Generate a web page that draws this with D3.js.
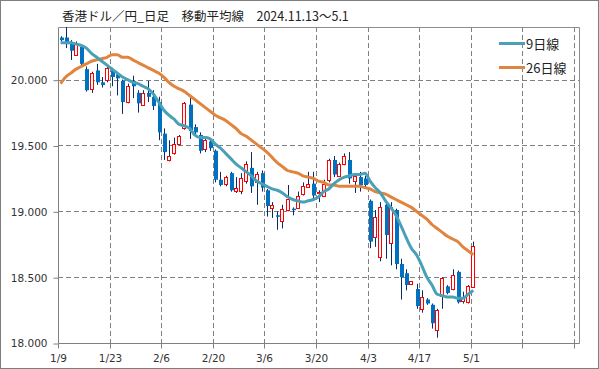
<!DOCTYPE html>
<meta charset="utf-8">
<head>
	<title>香港ドル／円 日足 移動平均線</title>
</head>

<style>
body{
	margin: 0;
	background: #fff;
}
svg{
	display: block;
}
.grid line{
	stroke: #808080;
	stroke-dasharray: 5,3;
}
.axis text{
	font-family: "DejaVu Sans", Verdana, sans-serif;
	font-size: 10.5px;
	fill: #333;
}
.axis path, .axis line{
	stroke: #808080;
}
</style>

<body>
<svg width="599" height="369"></svg>

<script src="https://cdnjs.cloudflare.com/ajax/libs/d3/7.8.5/d3.min.js"></script>
<script>

// 日足 (1/9 ～ 5/1)
var opens  = [20.32,20.32,20.28,20.19,20.25,20.08,19.93,20.07,19.98,20.00,
              20.07,20.04,19.99,19.83,19.99,19.90,19.81,19.90,19.87,19.83,
              19.59,19.39,19.44,19.51,19.63,19.81,19.64,19.58,19.47,19.53,
              19.46,19.24,19.21,19.29,19.16,19.15,19.23,19.33,19.22,19.29,
              19.16,19.03,18.97,18.93,19.01,19.02,19.03,19.13,19.19,19.21,
              19.14,19.12,19.24,19.39,19.27,19.36,19.39,19.23,19.26,19.25,
              19.08,18.81,18.65,19.05,18.76,19.01,18.60,18.53,18.45,18.41,
              18.26,18.33,18.29,18.10,18.35,18.43,18.41,18.54,18.32,18.31,
              18.43];
var highs  = [20.33,20.40,20.30,20.29,20.27,20.10,20.06,20.12,20.02,20.11,
              20.09,20.06,20.00,19.97,20.03,19.92,19.92,19.99,19.92,19.87,
              19.63,19.54,19.56,19.58,19.83,19.86,19.66,19.60,19.55,19.55,
              19.47,19.30,19.27,19.30,19.26,19.29,19.38,19.45,19.30,19.31,
              19.17,19.07,19.00,19.05,19.20,19.03,19.15,19.22,19.30,19.30,
              19.16,19.24,19.40,19.42,19.37,19.44,19.45,19.28,19.30,19.27,
              19.09,19.01,19.07,19.07,19.07,19.02,18.64,18.56,18.47,18.45,
              18.40,18.34,18.30,18.26,18.50,18.44,18.56,18.55,18.39,18.44,
              18.77];
var lows   = [20.29,20.24,20.15,20.18,20.10,19.91,19.90,19.96,19.94,19.98,
              19.95,19.88,19.74,19.82,19.86,19.75,19.80,19.83,19.77,19.54,
              19.39,19.38,19.43,19.50,19.62,19.55,19.57,19.44,19.45,19.46,
              19.22,19.19,19.19,19.15,19.14,19.13,19.21,19.14,19.05,19.15,
              18.96,18.95,18.86,18.87,19.00,18.97,19.02,19.12,19.18,19.10,
              19.07,19.11,19.22,19.26,19.26,19.35,19.21,19.14,19.15,19.18,
              18.72,18.73,18.62,18.64,18.59,18.56,18.33,18.40,18.44,18.26,
              18.23,18.29,18.11,18.04,18.26,18.37,18.40,18.30,18.30,18.30,
              18.42];
var closes = [20.30,20.27,20.22,20.27,20.12,19.92,20.05,19.98,19.96,20.09,
              20.02,20.01,19.83,19.95,19.95,19.82,19.90,19.87,19.80,19.60,
              19.45,19.42,19.51,19.57,19.82,19.61,19.60,19.46,19.54,19.48,
              19.24,19.20,19.26,19.16,19.18,19.25,19.36,19.19,19.28,19.18,
              19.04,19.05,18.96,19.02,19.09,19.01,19.12,19.19,19.21,19.12,
              19.15,19.21,19.39,19.28,19.36,19.42,19.25,19.27,19.20,19.20,
              18.77,18.96,19.03,18.82,19.03,18.60,18.50,18.44,18.47,18.28,
              18.35,18.30,18.15,18.25,18.49,18.38,18.52,18.31,18.35,18.43,
              18.74];

// 移動平均
var ma9  = [20.28,20.28,20.28,20.27,20.26,20.24,20.20,20.17,20.14,20.11,
            20.08,20.05,20.02,20.00,19.98,19.97,19.95,19.93,19.89,19.83,
            19.77,19.73,19.70,19.66,19.65,19.63,19.58,19.56,19.56,19.55,
            19.51,19.48,19.44,19.40,19.36,19.33,19.30,19.27,19.23,19.21,
            19.19,19.17,19.16,19.14,19.11,19.09,19.08,19.07,19.08,19.09,
            19.11,19.15,19.17,19.21,19.24,19.26,19.27,19.28,19.28,19.29,
            19.23,19.18,19.14,19.08,19.03,18.97,18.89,18.80,18.72,18.67,
            18.59,18.50,18.44,18.37,18.36,18.35,18.35,18.34,18.34,18.37,
            18.40];
var ma26 = [19.97,20.02,20.05,20.08,20.10,20.12,20.14,20.15,20.16,20.17,
            20.19,20.19,20.17,20.17,20.15,20.13,20.11,20.09,20.07,20.05,
            20.02,19.98,19.95,19.93,19.91,19.88,19.85,19.82,19.79,19.76,
            19.73,19.71,19.69,19.66,19.63,19.59,19.57,19.54,19.51,19.48,
            19.45,19.41,19.37,19.34,19.31,19.30,19.29,19.27,19.26,19.25,
            19.23,19.22,19.20,19.20,19.19,19.19,19.19,19.19,19.19,19.18,
            19.17,19.15,19.14,19.13,19.11,19.09,19.07,19.05,19.03,19.00,
            18.97,18.94,18.90,18.87,18.84,18.81,18.79,18.77,18.73,18.70,
            18.67];

var tickLabels = ["1/9","1/23","2/6","2/20","3/6","3/20","4/3","4/17","5/1","",""];
var yTicks = [18.0, 18.5, 19.0, 19.5, 20.0];
var title = "香港ドル／円_日足　移動平均線　2024.11.13～5.1";
var legendNames = ["9日線", "26日線"];

var colors = {ma9: "#4aa0b6", ma26: "#e0843e", up: "#ff0000", down: "#0070c0", wick: "#0a2a6a"};

var svg = d3.select("svg");
var pLeft = 58, pRight = 579, pTop = 27, pBottom = 343;

// 外枠
svg.append("rect")
	.attr("x", 0.5).attr("y", 0.5)
	.attr("width", 598).attr("height", 368)
	.attr("fill", "#fff")
	.attr("stroke", "#7f7f7f");

var x = d3.scaleBand()
	.domain(d3.range(101))
	.range([pLeft, pRight]);

var y = d3.scaleLinear()
	.domain([18, 20.4])
	.range([pBottom, pTop]);

var cx = function(i){ return Math.round(x(i) + x.bandwidth() / 2); };
var py = function(v){ return Math.round(y(v)) + 0.5; };

// グリッド
var grid = svg.append("g").attr("class", "grid");
grid.selectAll(".h")
	.data(yTicks.slice(1))
	.enter().append("line")
	.attr("x1", pLeft).attr("x2", pRight)
	.attr("y1", function(d){ return py(d); })
	.attr("y2", function(d){ return py(d); });
grid.selectAll(".v")
	.data(tickLabels.slice(1))
	.enter().append("line")
	.attr("x1", function(d, i){ return Math.round(x((i + 1) * 10)) + 0.5; })
	.attr("x2", function(d, i){ return Math.round(x((i + 1) * 10)) + 0.5; })
	.attr("y1", pTop).attr("y2", pBottom);

// 枠 (上・右)
svg.append("path")
	.attr("d", "M" + (pLeft + 0.5) + "," + (pTop + 0.5) + "H" + (pRight + 0.5) + "V" + (pBottom + 0.5))
	.attr("fill", "none")
	.attr("stroke", "#8c8c8c");

// 軸
var yAxis = d3.axisLeft(y)
	.tickValues(yTicks)
	.tickFormat(d3.format(".3f"))
	.tickSize(5)
	.tickPadding(6);
svg.append("g")
	.attr("class", "axis")
	.attr("transform", "translate(" + (pLeft + 0.5) + ",0.5)")
	.call(yAxis)
	.call(function(g){ g.select(".domain").attr("d", "M0," + pTop + "V" + pBottom); });

var xAxis = d3.axisBottom(x)
	.tickValues(d3.range(0, 101, 10))
	.tickFormat(function(d){ return tickLabels[d / 10]; })
	.tickSize(5)
	.tickPadding(6);
svg.append("g")
	.attr("class", "axis")
	.attr("transform", "translate(0.5," + (pBottom + 0.5) + ")")
	.call(xAxis)
	.call(function(g){
		g.select(".domain").attr("d", "M" + pLeft + ",0H" + pRight);
		g.selectAll(".tick").attr("transform", function(d){ return "translate(" + Math.round(x(d)) + ",0)"; });
	});

// ローソク足
var idx = d3.range(closes.length);
var isUp = function(i){ return closes[i] >= opens[i]; };
var candles = svg.append("g");
candles.selectAll(".wick")
	.data(idx)
	.enter().append("line")
	.attr("x1", function(i){ return cx(i) + 0.5; })
	.attr("x2", function(i){ return cx(i) + 0.5; })
	.attr("y1", function(i){ return y(highs[i]); })
	.attr("y2", function(i){ return y(lows[i]); })
	.attr("stroke", colors.wick)
	.attr("stroke-width", 1);

candles.selectAll(".body")
	.data(idx)
	.enter().append("rect")
	.attr("x", function(i){ return isUp(i) ? cx(i) - 1.5 : cx(i) - 1; })
	.attr("width", function(i){ return isUp(i) ? 3 : 4; })
	.attr("y", function(i){
		var t = y(Math.max(opens[i], closes[i]));
		return isUp(i) ? Math.round(t) + 0.5 : t;
	})
	.attr("height", function(i){
		var h = Math.abs(y(opens[i]) - y(closes[i]));
		return isUp(i) ? Math.max(1, Math.round(h)) : Math.max(1.5, h);
	})
	.attr("fill", function(i){ return isUp(i) ? "#fff" : colors.down; })
	.attr("stroke", function(i){ return isUp(i) ? colors.up : "none"; })
	.attr("stroke-width", 1);

// 移動平均線
var line = d3.line()
	.x(function(d, i){ return x(i) + x.bandwidth() / 2; })
	.y(function(d){ return y(d); })
	.curve(d3.curveMonotoneX);

svg.append("path")
	.attr("d", line(ma26))
	.attr("fill", "none")
	.attr("stroke", colors.ma26)
	.attr("stroke-width", 3);

svg.append("path")
	.attr("d", line(ma9))
	.attr("fill", "none")
	.attr("stroke", colors.ma9)
	.attr("stroke-width", 3);

// タイトル
svg.append("text")
	.attr("x", 62)
	.attr("y", 21)
	.attr("font-family", "'Noto Sans CJK JP', sans-serif")
	.attr("font-size", 12.5)
	.attr("fill", "#222")
	.text(title);

// 凡例
var legend = svg.append("g")
	.selectAll("g")
	.data(legendNames)
	.enter().append("g")
	.attr("transform", function(d, i){ return "translate(499," + (43.5 + i * 24) + ")"; });
legend.append("line")
	.attr("x1", 0).attr("x2", 26)
	.attr("stroke", function(d, i){ return i == 0 ? colors.ma9 : colors.ma26; })
	.attr("stroke-width", 3);
legend.append("text")
	.attr("x", 27)
	.attr("y", 5)
	.attr("font-family", "'Noto Sans CJK JP', sans-serif")
	.attr("font-size", 13)
	.attr("fill", "#222")
	.text(function(d){ return d; });

</script>
</body>
</html>
